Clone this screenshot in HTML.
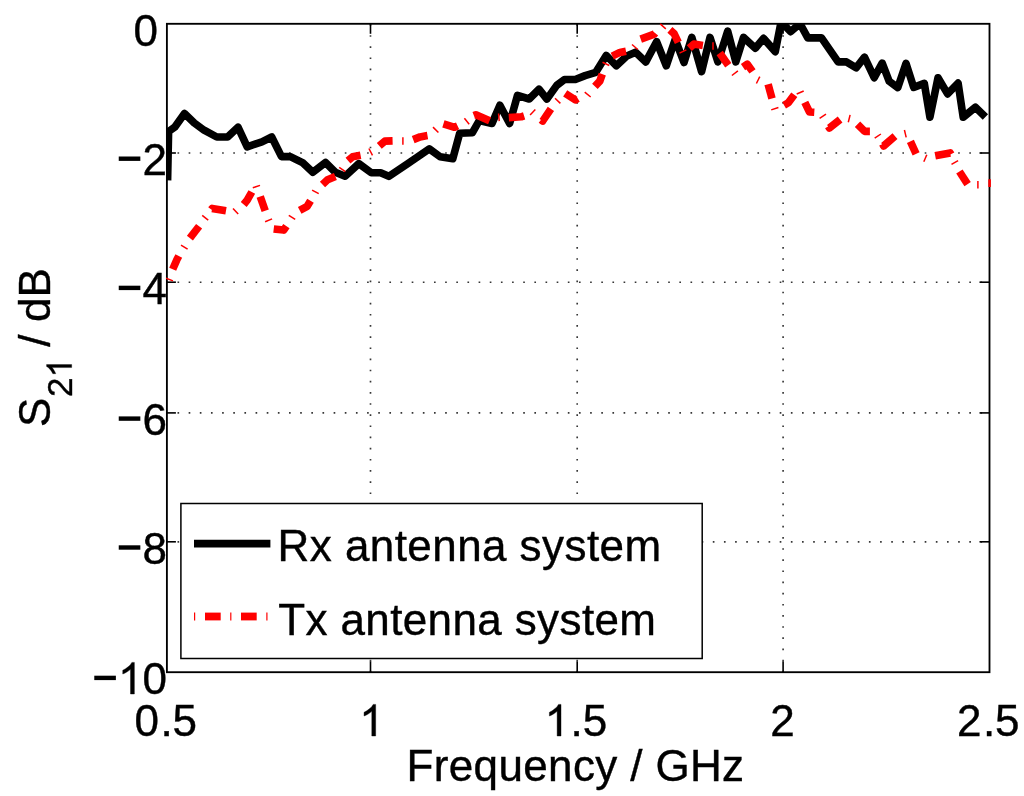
<!DOCTYPE html>
<html><head><meta charset="utf-8"><title>S21</title>
<style>
html,body{margin:0;padding:0;background:#fff}
body{width:1024px;height:796px;overflow:hidden}
svg{display:block;will-change:transform}
text{font-family:"Liberation Sans",sans-serif;fill:#000;stroke:#000;stroke-width:0.4px}
</style></head><body>
<svg width="1024" height="796" viewBox="0 0 1024 796">
<rect width="1024" height="796" fill="#fff"/>
<defs><clipPath id="cb"><rect x="166.6" y="23.2" width="823.9" height="649.4"/></clipPath><clipPath id="cr"><rect x="166" y="22.8" width="825.2" height="649.4"/></clipPath></defs>
<g stroke="#363636" stroke-width="1.65" stroke-dasharray="1.65 9.502" fill="none">
<line x1="370.5" y1="24.0" x2="370.5" y2="672.2"/>
<line x1="577.2" y1="24.0" x2="577.2" y2="672.2"/>
<line x1="783.1" y1="24.0" x2="783.1" y2="672.2"/>
<line x1="177.5" y1="153.0" x2="989.5" y2="153.0"/>
<line x1="177.5" y1="282.2" x2="989.5" y2="282.2"/>
<line x1="177.5" y1="412.9" x2="989.5" y2="412.9"/>
<line x1="177.5" y1="541.8" x2="989.5" y2="541.8"/>
</g>
<rect x="166.9" y="23.8" width="822.6" height="648.4000000000001" fill="none" stroke="#000" stroke-width="1.85"/>
<g stroke="#000" stroke-width="1.6">
<line x1="370.5" y1="672.2" x2="370.5" y2="661.2"/>
<line x1="370.5" y1="23.8" x2="370.5" y2="33.8"/>
<line x1="577.2" y1="672.2" x2="577.2" y2="661.2"/>
<line x1="577.2" y1="23.8" x2="577.2" y2="33.8"/>
<line x1="783.1" y1="672.2" x2="783.1" y2="661.2"/>
<line x1="783.1" y1="23.8" x2="783.1" y2="33.8"/>
<line x1="166.9" y1="153.0" x2="175.9" y2="153.0"/>
<line x1="989.5" y1="153.0" x2="979.5" y2="153.0"/>
<line x1="166.9" y1="282.2" x2="175.9" y2="282.2"/>
<line x1="989.5" y1="282.2" x2="979.5" y2="282.2"/>
<line x1="166.9" y1="412.9" x2="175.9" y2="412.9"/>
<line x1="989.5" y1="412.9" x2="979.5" y2="412.9"/>
<line x1="166.9" y1="541.8" x2="175.9" y2="541.8"/>
<line x1="989.5" y1="541.8" x2="979.5" y2="541.8"/>
</g>
<polyline clip-path="url(#cb)" points="167.6,180.4 168.6,131.5 174.7,127.2 184.5,113.5 194.3,123.0 204.1,130.2 216.8,137.0 227.6,137.0 238.0,127.2 247.2,146.8 261.9,141.9 271.7,137.0 281.5,156.6 290.3,156.6 303.0,162.9 312.8,172.3 325.5,162.5 335.3,172.3 345.1,176.2 358.8,163.6 371.3,172.8 380.6,172.8 388.8,176.3 407.8,163.6 429.3,148.9 440.1,156.8 452.8,158.7 459.7,133.3 472.4,132.7 479.3,120.5 492.0,123.5 499.9,105.2 509.6,123.5 517.5,95.4 529.2,99.0 539.0,89.2 546.9,99.1 556.7,85.4 564.5,79.5 575.3,79.5 585.1,75.6 595.8,72.3 606.2,55.4 616.4,65.8 626.8,56.0 635.6,52.2 645.8,61.9 656.6,41.7 666.3,65.8 675.2,39.4 684.0,62.5 691.8,37.4 701.6,71.7 710.0,37.4 717.9,61.9 727.7,31.2 735.8,61.9 743.5,37.4 755.3,48.2 763.5,38.4 775.3,51.6 781.1,21.8 790.6,31.7 800.0,23.7 807.8,37.9 821.5,37.9 838.1,61.9 846.5,61.9 856.1,67.8 864.5,57.2 874.2,77.7 882.2,63.2 889.2,81.3 897.8,87.6 906.0,63.4 913.7,87.4 924.3,83.4 929.9,117.2 938.0,77.8 947.6,93.9 958.1,83.1 963.2,117.2 975.4,107.2 985.4,116.9" fill="none" stroke="#000" stroke-width="7.6" stroke-linejoin="round" stroke-linecap="butt"/>
<g clip-path="url(#cr)" fill="none" stroke="#f00">
<line x1="166.0" y1="278.1" x2="173.0" y2="280.9" stroke-width="1.5"/>
<polyline points="172.7,269.2 176.7,260.1 178.8,256.1" stroke-width="7.6" stroke-linejoin="round"/>
<line x1="181.0" y1="245.1" x2="187.6" y2="249.1" stroke-width="1.5"/>
<polyline points="189.9,238.1 199.1,226.2" stroke-width="7.6" stroke-linejoin="round"/>
<line x1="202.2" y1="215.4" x2="208.2" y2="220.2" stroke-width="1.5"/>
<polyline points="211.3,209.5 212.1,208.4 226.0,210.8" stroke-width="7.6" stroke-linejoin="round"/>
<line x1="233.0" y1="208.5" x2="238.2" y2="214.1" stroke-width="1.5"/>
<polyline points="243.7,204.5 247.2,200.2 251.8,192.0" stroke-width="7.6" stroke-linejoin="round"/>
<line x1="252.8" y1="187.8" x2="260.0" y2="185.4" stroke-width="1.5"/>
<polyline points="260.2,196.5 265.2,210.7" stroke-width="7.6" stroke-linejoin="round"/>
<line x1="265.1" y1="221.7" x2="272.1" y2="218.9" stroke-width="1.5"/>
<polyline points="273.7,228.9 283.7,230.1 286.4,226.1" stroke-width="7.6" stroke-linejoin="round"/>
<line x1="288.8" y1="215.4" x2="295.2" y2="219.4" stroke-width="1.5"/>
<polyline points="299.7,210.3 307.2,206.3 310.5,200.7" stroke-width="7.6" stroke-linejoin="round"/>
<line x1="312.1" y1="190.1" x2="318.7" y2="193.7" stroke-width="1.5"/>
<polyline points="322.5,184.5 327.6,179.7 335.4,176.4" stroke-width="7.6" stroke-linejoin="round"/>
<line x1="339.2" y1="167.3" x2="345.4" y2="171.7" stroke-width="1.5"/>
<polyline points="348.0,160.7 352.6,156.8 360.6,155.3" stroke-width="7.6" stroke-linejoin="round"/>
<line x1="368.9" y1="148.5" x2="372.5" y2="155.3" stroke-width="1.5"/>
<polyline points="379.3,145.9 384.9,141.1 392.6,140.9" stroke-width="7.6" stroke-linejoin="round"/>
<line x1="402.9" y1="137.2" x2="402.9" y2="144.8" stroke-width="1.5"/>
<polyline points="413.2,139.6 420.1,136.9 427.5,135.6" stroke-width="7.6" stroke-linejoin="round"/>
<line x1="433.0" y1="127.1" x2="438.4" y2="132.5" stroke-width="1.5"/>
<polyline points="443.4,123.8 454.6,127.3 457.6,125.9" stroke-width="7.6" stroke-linejoin="round"/>
<line x1="464.4" y1="118.3" x2="469.2" y2="124.3" stroke-width="1.5"/>
<polyline points="473.9,115.6 475.9,114.8 489.6,120.7" stroke-width="7.6" stroke-linejoin="round"/>
<line x1="498.6" y1="113.5" x2="499.2" y2="121.1" stroke-width="1.5"/>
<polyline points="508.8,117.6 521.2,116.8 524.1,115.9" stroke-width="7.6" stroke-linejoin="round"/>
<line x1="530.1" y1="115.0" x2="535.3" y2="109.4" stroke-width="1.5"/>
<polyline points="541.1,119.7 542.7,121.0 550.9,108.8" stroke-width="7.6" stroke-linejoin="round"/>
<line x1="555.0" y1="98.2" x2="560.4" y2="103.4" stroke-width="1.5"/>
<polyline points="565.2,93.4 575.3,99.9 577.8,98.4" stroke-width="7.6" stroke-linejoin="round"/>
<line x1="584.7" y1="92.2" x2="590.7" y2="97.0" stroke-width="1.5"/>
<polyline points="594.9,86.4 599.8,81.1 602.3,74.1" stroke-width="7.6" stroke-linejoin="round"/>
<line x1="602.5" y1="62.3" x2="609.3" y2="65.5" stroke-width="1.5"/>
<polyline points="612.3,56.1 619.9,52.4 626.0,51.2" stroke-width="7.6" stroke-linejoin="round"/>
<line x1="632.0" y1="44.5" x2="637.8" y2="49.5" stroke-width="1.5"/>
<polyline points="640.7,39.1 654.3,34.2 655.2,33.1" stroke-width="7.6" stroke-linejoin="round"/>
<line x1="660.2" y1="23.9" x2="665.8" y2="28.9" stroke-width="1.5"/>
<polyline points="669.9,29.9 674.1,33.6 678.3,42.4" stroke-width="7.6" stroke-linejoin="round"/>
<line x1="679.5" y1="53.1" x2="686.3" y2="49.9" stroke-width="1.5"/>
<polyline points="689.3,48.1 693.9,44.1 702.9,45.5" stroke-width="7.6" stroke-linejoin="round"/>
<line x1="713.0" y1="42.2" x2="713.0" y2="49.8" stroke-width="1.5"/>
<polyline points="719.7,53.0 728.3,65.2" stroke-width="7.6" stroke-linejoin="round"/>
<line x1="731.9" y1="75.5" x2="737.9" y2="70.9" stroke-width="1.5"/>
<polyline points="743.0,67.1 747.3,64.2 752.5,71.4" stroke-width="7.6" stroke-linejoin="round"/>
<line x1="756.4" y1="83.5" x2="759.8" y2="76.7" stroke-width="1.5"/>
<polyline points="768.1,84.2 772.0,98.5" stroke-width="7.6" stroke-linejoin="round"/>
<line x1="771.2" y1="109.9" x2="778.4" y2="107.5" stroke-width="1.5"/>
<polyline points="784.1,105.2 788.3,102.8 794.3,94.7" stroke-width="7.6" stroke-linejoin="round"/>
<line x1="796.7" y1="94.0" x2="803.7" y2="91.0" stroke-width="1.5"/>
<polyline points="804.8,102.4 809.5,112.0 814.3,112.3" stroke-width="7.6" stroke-linejoin="round"/>
<line x1="819.6" y1="118.4" x2="826.0" y2="114.2" stroke-width="1.5"/>
<polyline points="828.4,126.3 829.4,128.0 840.1,119.5" stroke-width="7.6" stroke-linejoin="round"/>
<line x1="848.3" y1="122.3" x2="850.1" y2="114.9" stroke-width="1.5"/>
<polyline points="857.5,124.2 864.7,131.4 869.9,131.4" stroke-width="7.6" stroke-linejoin="round"/>
<line x1="874.7" y1="138.2" x2="880.9" y2="134.0" stroke-width="1.5"/>
<polyline points="882.7,144.0 883.6,146.0 895.0,136.2" stroke-width="7.6" stroke-linejoin="round"/>
<line x1="904.4" y1="130.0" x2="906.2" y2="137.4" stroke-width="1.5"/>
<polyline points="910.4,141.4 916.1,153.9" stroke-width="7.6" stroke-linejoin="round"/>
<line x1="923.8" y1="161.8" x2="926.8" y2="154.8" stroke-width="1.5"/>
<polyline points="935.2,155.8 950.2,152.9 950.9,154.3" stroke-width="7.6" stroke-linejoin="round"/>
<line x1="951.5" y1="164.4" x2="958.1" y2="160.6" stroke-width="1.5"/>
<polyline points="959.4,171.5 967.6,184.1" stroke-width="7.6" stroke-linejoin="round"/>
<line x1="977.9" y1="180.9" x2="977.9" y2="188.5" stroke-width="1.5"/>
<polyline points="988.3,183.1 990.9,183.1" stroke-width="7.6" stroke-linejoin="round"/>
</g>
<rect x="180.9" y="503.5" width="521.3" height="155" fill="#fff" stroke="#000" stroke-width="1.5"/>
<line x1="194" y1="543.7" x2="270.4" y2="543.7" stroke="#000" stroke-width="7.8"/>
<g stroke="#f00" stroke-width="7.8">
<line x1="194.0" y1="616.5" x2="195.2" y2="616.5"/>
<line x1="205" y1="616.5" x2="220.7" y2="616.5"/>
<line x1="230.2" y1="616.5" x2="231.4" y2="616.5"/>
<line x1="241" y1="616.5" x2="256.7" y2="616.5"/>
<line x1="266.3" y1="616.5" x2="267.5" y2="616.5"/>
</g>
<g font-size="44">
<text x="277.6" y="561.2" letter-spacing="0.43">Rx antenna system</text>
<text x="278.2" y="634.5" letter-spacing="0.38">Tx antenna system</text>
<rect x="118.74" y="156.50" width="21.6" height="4.4" fill="#000"/>
<text x="142.44" y="174.8">2</text>
<rect x="118.74" y="285.70" width="21.6" height="4.4" fill="#000"/>
<text x="142.44" y="304.0">4</text>
<rect x="118.74" y="416.40" width="21.6" height="4.4" fill="#000"/>
<text x="142.44" y="434.7">6</text>
<rect x="118.74" y="545.30" width="21.6" height="4.4" fill="#000"/>
<text x="142.44" y="563.6">8</text>
<rect x="94.28" y="675.70" width="21.6" height="4.4" fill="#000"/>
<path d="M763 0H583V1147Q518 1085 412.5 1023T223 930V1104Q374 1175 487 1276T647 1472H763Z" transform="translate(117.97,694.00) scale(0.021484,-0.021484)" fill="#000" stroke="#000" stroke-width="18"/>
<text x="142.44" y="694.0">0</text>
<text x="133.54" y="45.8">0</text>
<text x="134.42" y="736.0">0</text>
<text x="160.38" y="736.0">.5</text>
<path d="M763 0H583V1147Q518 1085 412.5 1023T223 930V1104Q374 1175 487 1276T647 1472H763Z" transform="translate(359.27,736.00) scale(0.021484,-0.021484)" fill="#000" stroke="#000" stroke-width="18"/>
<path d="M763 0H583V1147Q518 1085 412.5 1023T223 930V1104Q374 1175 487 1276T647 1472H763Z" transform="translate(544.62,736.00) scale(0.021484,-0.021484)" fill="#000" stroke="#000" stroke-width="18"/>
<text x="570.58" y="736.0">.5</text>
<text x="770.37" y="736.0">2</text>
<text x="956.92" y="736.0">2</text>
<text x="982.88" y="736.0">.5</text>
<text x="406.5" y="781" letter-spacing="0.36">Frequency / GHz</text>
<g transform="translate(50.4,348) rotate(-90)">
<text x="-78.9" y="0">S</text>
<text x="-49.0" y="21.3" font-size="35">2</text>
<path d="M763 0H583V1147Q518 1085 412.5 1023T223 930V1104Q374 1175 487 1276T647 1472H763Z" transform="translate(-29.54,21.30) scale(0.017090,-0.017090)" fill="#000" stroke="#000" stroke-width="18"/>
<text x="1.2" y="0">/</text>
<text x="26.0" y="0">dB</text>
</g>
</g>
</svg>
</body></html>
